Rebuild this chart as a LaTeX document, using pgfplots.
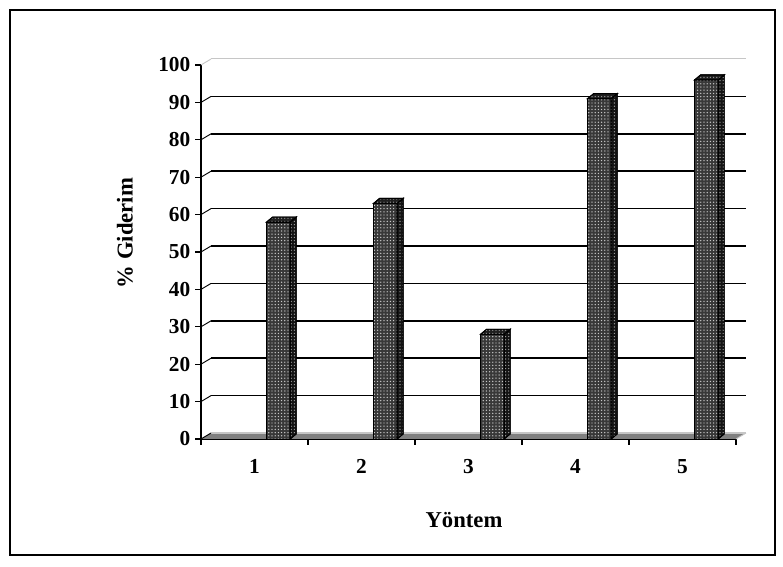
\documentclass[border=0pt]{standalone}
\usepackage{fontspec}
\setmainfont{Liberation Serif}
\usepackage{pgfplots}
\pgfplotsset{compat=1.18}
\usepackage{pgfplotstable}
\usetikzlibrary{patterns.meta}

% removal efficiency for each method (method index, % removal)
\pgfplotstableread{
method removal
0 58
1 63
2 28
3 91
4 96
}\giderim

\pgfplotsset{
  barfront/.style={draw=black, line width=0.7pt, fill=black!78,
    postaction={pattern={Dots[distance=2.4pt, radius=0.55pt]}, pattern color=white!78!black}},
  barside/.style={draw=black, line width=0.7pt, fill=black!92,
    postaction={pattern={Dots[distance=2.4pt, radius=0.5pt]}, pattern color=gray!70}},
  bartop/.style={draw=black, line width=0.7pt, fill=black!88,
    postaction={pattern={Dots[distance=2.4pt, radius=0.5pt]}, pattern color=gray!75}},
}

\begin{document}
\begin{tikzpicture}[x=1pt,y=1pt]
\path[use as bounding box] (0,0) rectangle (587.25,425.25);
\draw[line width=0.9pt] (7.5,9) rectangle (581.25,417.75);
\begin{axis}[
  at={(150.75pt,96pt)}, anchor=south west,
  scale only axis, width=401.25pt, height=280.5pt,
  xmin=-0.5, xmax=4.5, ymin=0, ymax=100,
  clip=false,
  axis lines*=left,
  axis line style={-, line width=1.1pt},
  ytick={0,10,...,100},
  xtick={-0.5,0.5,...,4.5}, xticklabels={},
  extra x ticks={0,1,2,3,4}, extra x tick labels={1,2,3,4,5},
  extra x tick style={major tick length=0pt, xticklabel style={yshift=-11.5pt}},
  tick align=outside, major tick length=4.5pt,
  tick style={line width=1pt, black},
  ticklabel style={font=\bfseries\fontsize{16}{18}\selectfont},
  /pgf/number format/assume math mode=true,
  label style={font=\bfseries\fontsize{17}{19}\selectfont},
  xlabel={Yöntem}, ylabel={\% Giderim},
  xlabel style={at={(axis description cs:0.4916,-0.2166)}, anchor=center},
  ylabel style={at={(axis description cs:-0.142,0.551)}, anchor=center},
]
% floor
\addplot[fill=black!50, draw=none] coordinates {(-0.5,0) (4.5,0) (4.5935,1.6) (-0.4065,1.6)} -- cycle;
\addplot[gray!45, line width=0.8pt] coordinates {(-0.4065,1.6) (4.5935,1.6)};
\addplot[black, line width=0.7pt] coordinates {(-0.5,0) (-0.4065,1.6)};
\addplot[gray!45, line width=0.7pt] coordinates {(4.5,0) (4.5935,1.6)};
% back wall gridlines
\pgfplotsinvokeforeach{10,20,...,90}{
  \pgfmathsetmacro\gy{#1+1.6}
  \edef\temp{%
    \noexpand\addplot[black, line width=1.1pt] coordinates {(-0.4065,\gy) (4.5935,\gy)};
    \noexpand\addplot[black, line width=0.7pt] coordinates {(-0.5,#1) (-0.4065,\gy)};
  }\temp
}
% top edge of the back wall
\addplot[gray!45, line width=0.5pt, double=white, double distance=0.7pt] coordinates {(-0.4065,101.6) (4.5935,101.6)};
\addplot[gray!45, line width=0.7pt] coordinates {(-0.5,100) (-0.4065,101.6)};
% 3D columns: front, side and top faces
\pgfplotsinvokeforeach{0,...,4}{
  \pgfplotstablegetelem{#1}{removal}\of\giderim
  \pgfmathsetmacro\barval{\pgfplotsretval}
  \pgfmathsetmacro\bartopval{\barval+1.35}
  \pgfmathsetmacro\xl{#1+0.113}
  \pgfmathsetmacro\xr{#1+0.333}
  \pgfmathsetmacro\xrd{#1+0.39}
  \pgfmathsetmacro\xld{#1+0.17}
  \edef\temp{%
    \noexpand\addplot[barfront] coordinates {(\xl,0) (\xr,0) (\xr,\barval) (\xl,\barval)} -- cycle;
    \noexpand\addplot[barside] coordinates {(\xr,0) (\xrd,1.35) (\xrd,\bartopval) (\xr,\barval)} -- cycle;
    \noexpand\addplot[bartop] coordinates {(\xl,\barval) (\xr,\barval) (\xrd,\bartopval) (\xld,\bartopval)} -- cycle;
  }\temp
}
\end{axis}
\end{tikzpicture}
\end{document}
